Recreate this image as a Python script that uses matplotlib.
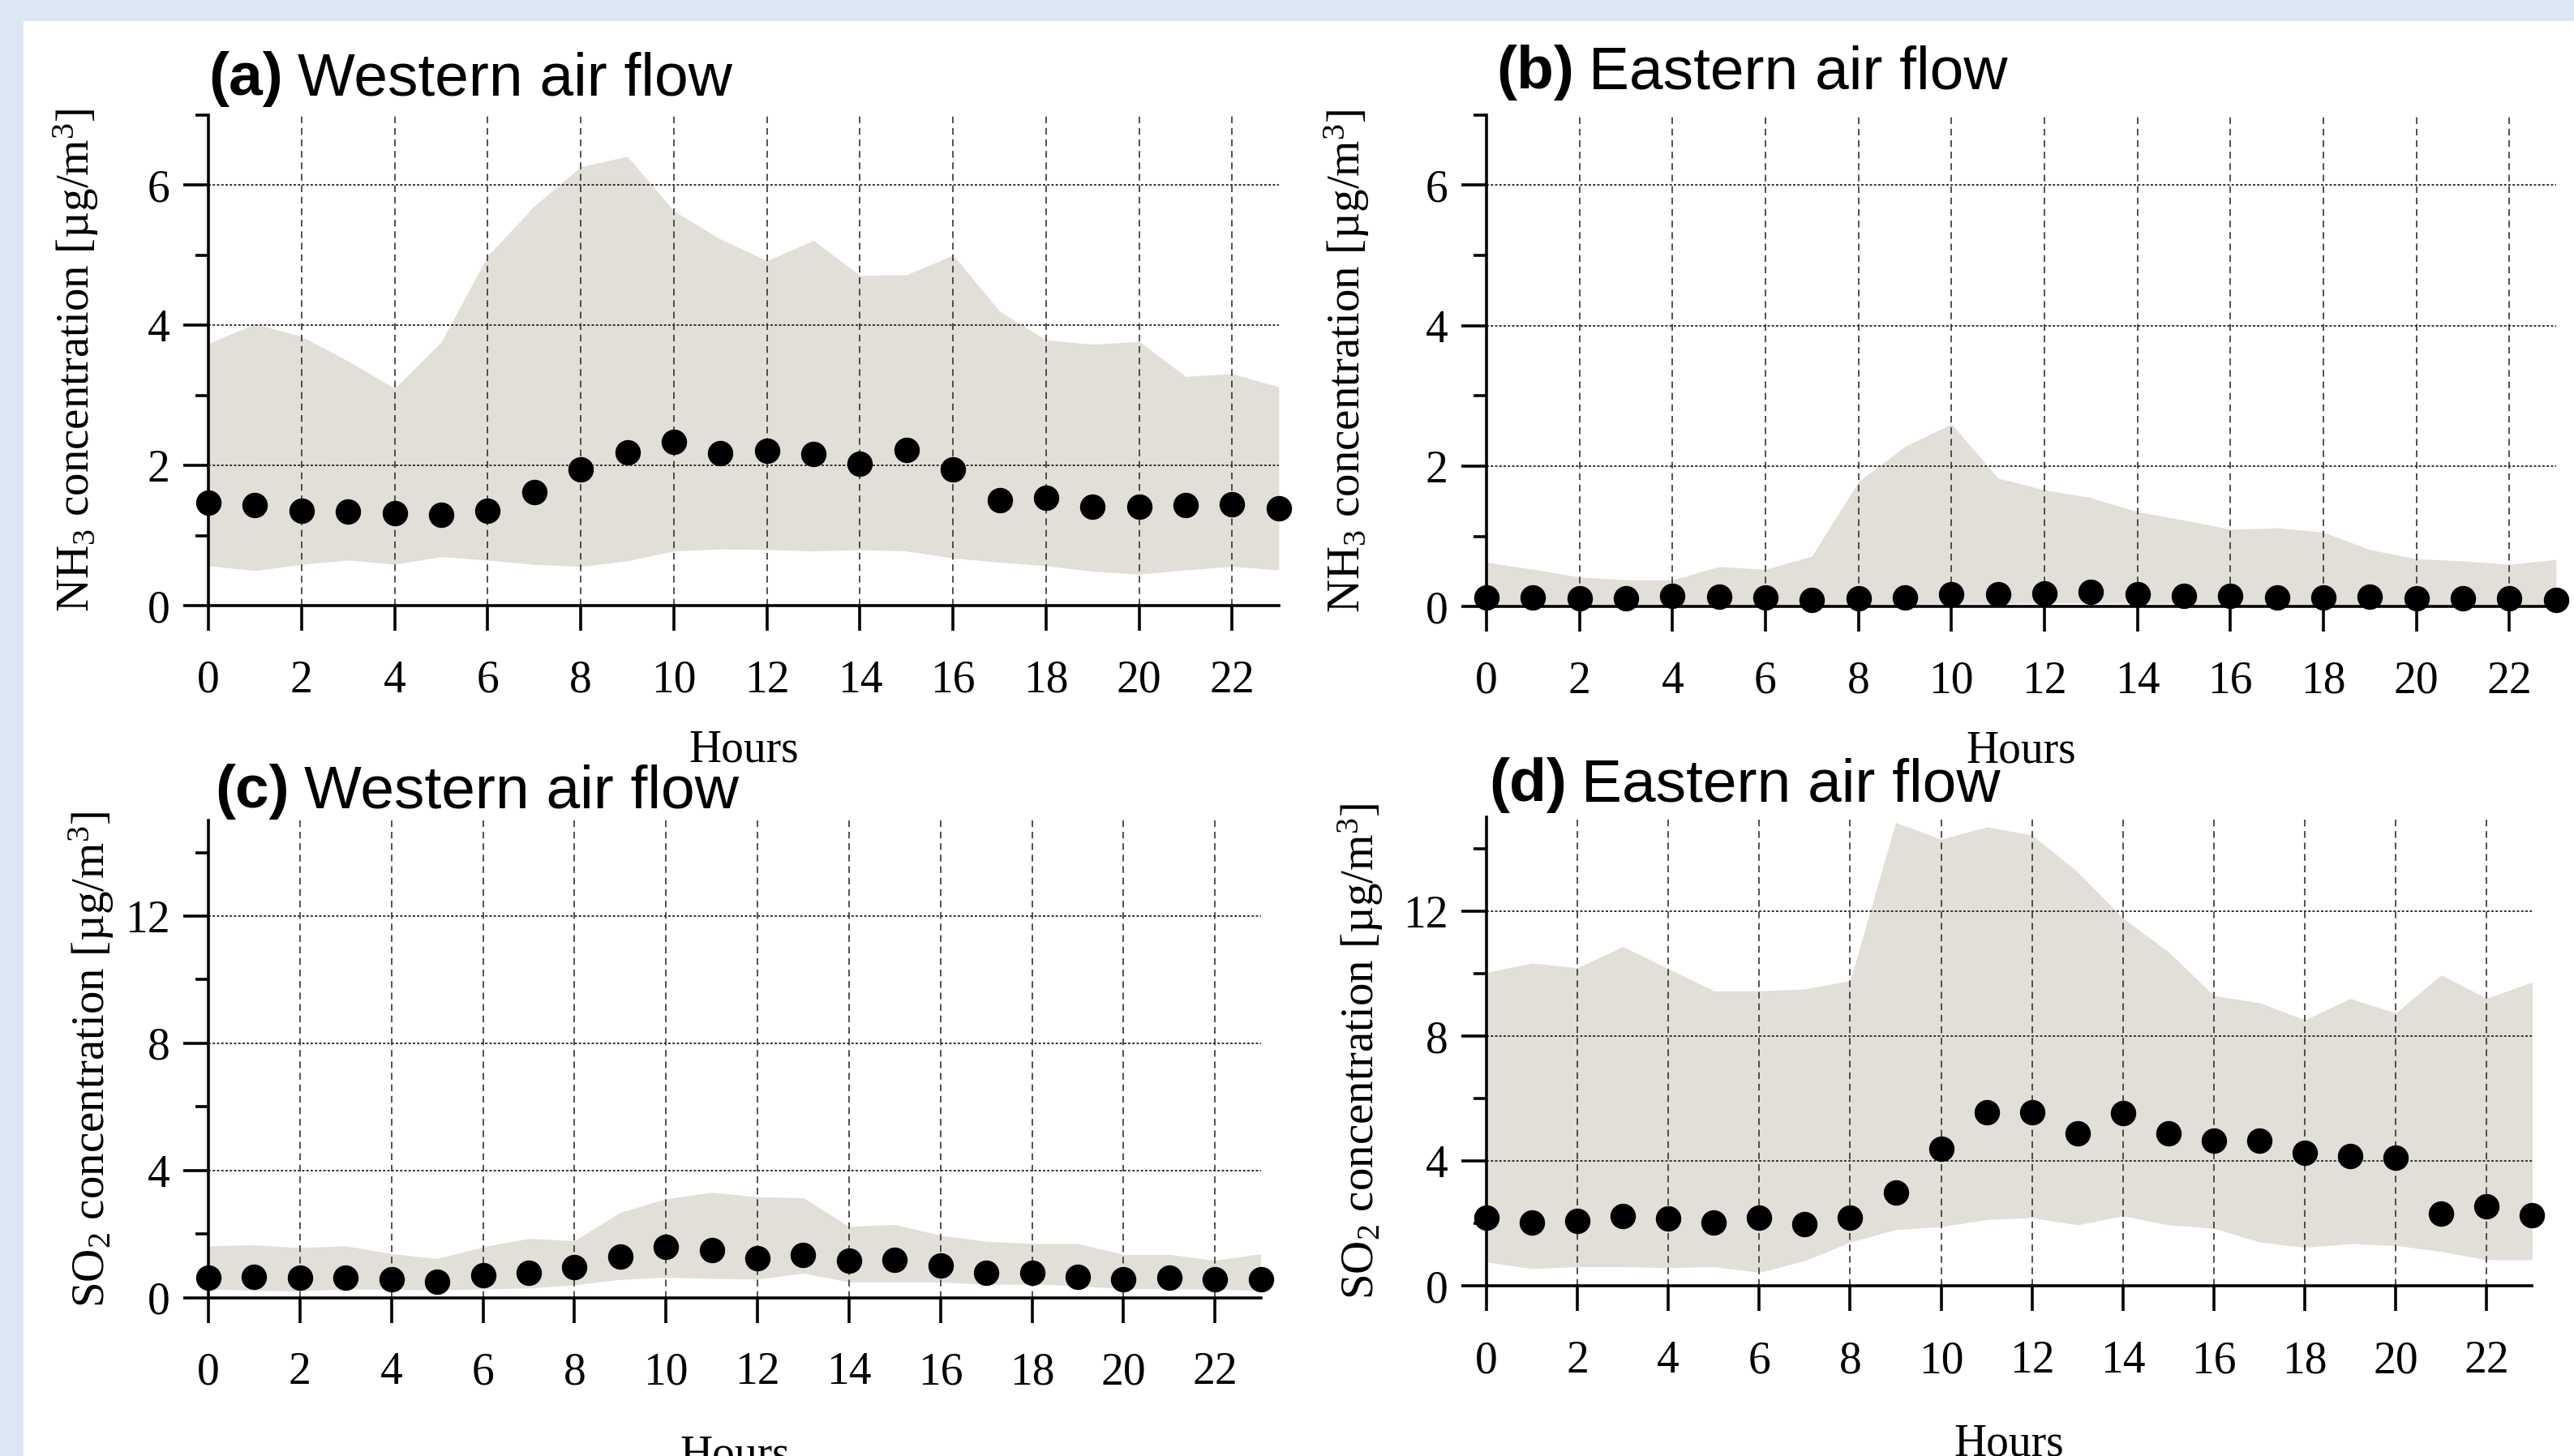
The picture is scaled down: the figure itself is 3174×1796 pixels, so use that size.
import matplotlib
matplotlib.use("Agg")
import matplotlib.pyplot as plt
from matplotlib.patches import Rectangle
from matplotlib.ticker import MultipleLocator

plt.rcParams['mathtext.fontset'] = 'custom'
plt.rcParams['mathtext.rm'] = 'Liberation Serif'
plt.rcParams['mathtext.it'] = 'Liberation Serif:italic'

hours = list(range(24))

# (a) NH3, western air flow
nh3_west_mean = [1.47, 1.43, 1.36, 1.34, 1.32, 1.30, 1.36, 1.62, 1.94, 2.19, 2.34, 2.17,
                 2.21, 2.16, 2.02, 2.22, 1.95, 1.50, 1.54, 1.41, 1.41, 1.43, 1.45, 1.39]
nh3_west_upper = [3.74, 4.02, 3.84, 3.49, 3.10, 3.76, 4.99, 5.70, 6.26, 6.41, 5.63, 5.23,
                  4.92, 5.21, 4.71, 4.72, 5.00, 4.20, 3.79, 3.73, 3.77, 3.27, 3.31, 3.12]
nh3_west_lower = [0.57, 0.50, 0.59, 0.65, 0.59, 0.70, 0.65, 0.59, 0.56, 0.64, 0.78, 0.81,
                  0.80, 0.78, 0.80, 0.78, 0.68, 0.62, 0.57, 0.49, 0.45, 0.51, 0.56, 0.51]

# (b) NH3, eastern air flow
nh3_east_mean = [0.13, 0.13, 0.12, 0.12, 0.15, 0.14, 0.13, 0.10, 0.12, 0.13, 0.18, 0.17,
                 0.19, 0.21, 0.17, 0.15, 0.15, 0.13, 0.13, 0.14, 0.12, 0.12, 0.12, 0.10]
nh3_east_upper = [0.63, 0.53, 0.42, 0.38, 0.38, 0.57, 0.53, 0.72, 1.78, 2.28, 2.60, 1.83,
                  1.66, 1.55, 1.35, 1.23, 1.10, 1.12, 1.06, 0.81, 0.68, 0.65, 0.60, 0.67]
nh3_east_lower = [0.03, 0.03, 0.03, 0.03, 0.03, 0.03, 0.03, 0.02, 0.03, 0.03, 0.04, 0.04,
                  0.05, 0.05, 0.04, 0.04, 0.03, 0.03, 0.03, 0.03, 0.03, 0.03, 0.03, 0.02]

# (c) SO2, western air flow
so2_west_mean = [0.64, 0.66, 0.62, 0.62, 0.58, 0.49, 0.70, 0.77, 0.95, 1.28, 1.59, 1.49,
                 1.25, 1.34, 1.17, 1.18, 1.00, 0.77, 0.77, 0.66, 0.58, 0.64, 0.58, 0.58]
so2_west_upper = [1.63, 1.66, 1.57, 1.63, 1.38, 1.23, 1.60, 1.86, 1.79, 2.68, 3.11, 3.31,
                  3.17, 3.14, 2.24, 2.30, 1.96, 1.77, 1.70, 1.70, 1.36, 1.36, 1.17, 1.38]
so2_west_lower = [0.27, 0.23, 0.21, 0.27, 0.26, 0.24, 0.27, 0.30, 0.40, 0.57, 0.64, 0.60,
                  0.58, 0.77, 0.49, 0.49, 0.49, 0.41, 0.43, 0.37, 0.28, 0.28, 0.26, 0.23]

# (d) SO2, eastern air flow
so2_east_mean = [2.19, 2.04, 2.10, 2.25, 2.16, 2.04, 2.19, 1.99, 2.19, 2.99, 4.39, 5.57,
                 5.57, 4.89, 5.54, 4.89, 4.65, 4.65, 4.27, 4.15, 4.12, 2.31, 2.55, 2.28]
so2_east_upper = [10.04, 10.34, 10.19, 10.87, 10.16, 9.45, 9.45, 9.51, 9.78, 14.84, 14.30, 14.70,
                  14.44, 13.26, 11.78, 10.70, 9.30, 9.07, 8.52, 9.21, 8.74, 9.96, 9.21, 9.73]
so2_east_lower = [0.77, 0.56, 0.62, 0.62, 0.59, 0.62, 0.44, 0.81, 1.41, 1.81, 1.90, 2.13,
                  2.19, 1.96, 2.25, 1.96, 1.85, 1.41, 1.24, 1.36, 1.30, 1.11, 0.84, 0.84]

panels = [
    ("(a)", "Western air flow", r"NH$_3$ concentration [µg/m$^3$]", nh3_west_mean, nh3_west_lower, nh3_west_upper, 7, 2),
    ("(b)", "Eastern air flow", r"NH$_3$ concentration [µg/m$^3$]", nh3_east_mean, nh3_east_lower, nh3_east_upper, 7, 2),
    ("(c)", "Western air flow", r"SO$_2$ concentration [µg/m$^3$]", so2_west_mean, so2_west_lower, so2_west_upper, 15, 4),
    ("(d)", "Eastern air flow", r"SO$_2$ concentration [µg/m$^3$]", so2_east_mean, so2_east_lower, so2_east_upper, 15, 4),
]

W, H = 1568.0, 887.0
def rect(l, r, b, t):
    return [l / W, 1 - b / H, (r - l) / W, (b - t) / H]

positions = [rect(127, 779, 369, 70), rect(905.5, 1557, 369.5, 70),
             rect(127, 768, 790.5, 500), rect(905.5, 1542.5, 783.5, 498)]
title_pos = [(127, 58), (911.5, 54), (131, 492), (907, 488)]
xlabel_pads = [12, 12, 18, 18]
ylabel_pads = [21, 24, 4, 8]

fig = plt.figure(figsize=(15.87, 8.98), dpi=200)
fig.patch.set_facecolor('#dde7f3')
fig.add_artist(Rectangle((29 / 3174, 0), 1, 1 - 26 / 1796, transform=fig.transFigure,
                         facecolor='white', edgecolor='none', zorder=-10))

serif = 'Liberation Serif'
fill_color = '#e1dfd8'
renderer = fig.canvas.get_renderer()

for i, ((tag, title, ylab, mean, lower, upper, ymax, ystep), pos, (tx, ty)) in enumerate(zip(panels, positions, title_pos)):
    ax = fig.add_axes(pos)
    ax.set_facecolor('none')
    ax.fill_between(hours, lower, upper, color=fill_color, linewidth=0, zorder=1)
    ax.plot(hours, mean, 'o', color='black', markersize=10.3, zorder=3, clip_on=False)
    ax.set_xlim(0, 23)
    ax.set_ylim(0, ymax)
    ax.xaxis.set_major_locator(MultipleLocator(2))
    ax.yaxis.set_major_locator(MultipleLocator(ystep))
    ax.yaxis.set_minor_locator(MultipleLocator(ystep / 2))
    for s in ['top', 'right']:
        ax.spines[s].set_visible(False)
    for s in ['left', 'bottom']:
        ax.spines[s].set_linewidth(1.3)
        ax.spines[s].set_zorder(4)
    ax.tick_params(axis='x', which='major', direction='out', length=11, width=1.3, pad=13)
    ax.tick_params(axis='y', which='major', direction='out', length=11, width=1.3, pad=6)
    ax.tick_params(axis='y', which='minor', direction='out', length=5.8, width=1.3)
    ax.grid(True, axis='x', which='major', linestyle=(0, (5, 3.5)), linewidth=0.6, color='#333333', zorder=2)
    ax.grid(True, axis='y', which='major', linestyle=(0, (1.5, 1.2)), linewidth=0.7, color='#333333', zorder=2)
    ax.set_axisbelow(False)
    for lbl in ax.get_xticklabels() + ax.get_yticklabels():
        lbl.set_fontfamily(serif)
        lbl.set_fontsize(20)
    ax.set_xlabel('Hours', fontfamily=serif, fontsize=20, labelpad=xlabel_pads[i])
    ax.set_ylabel(ylab, fontfamily=serif, fontsize=20.5, labelpad=ylabel_pads[i])

    t1 = fig.text(tx / W, 1 - ty / H, tag, fontfamily='Liberation Sans', fontweight='bold',
                  fontsize=27, va='baseline', ha='left')
    bb = t1.get_window_extent(renderer=renderer)
    x2 = (bb.x1 + 18) / fig.bbox.width
    fig.text(x2, 1 - ty / H, title, fontfamily='Liberation Sans', fontsize=27,
             va='baseline', ha='left')

fig.savefig('out.png', dpi=200, facecolor=fig.get_facecolor())
